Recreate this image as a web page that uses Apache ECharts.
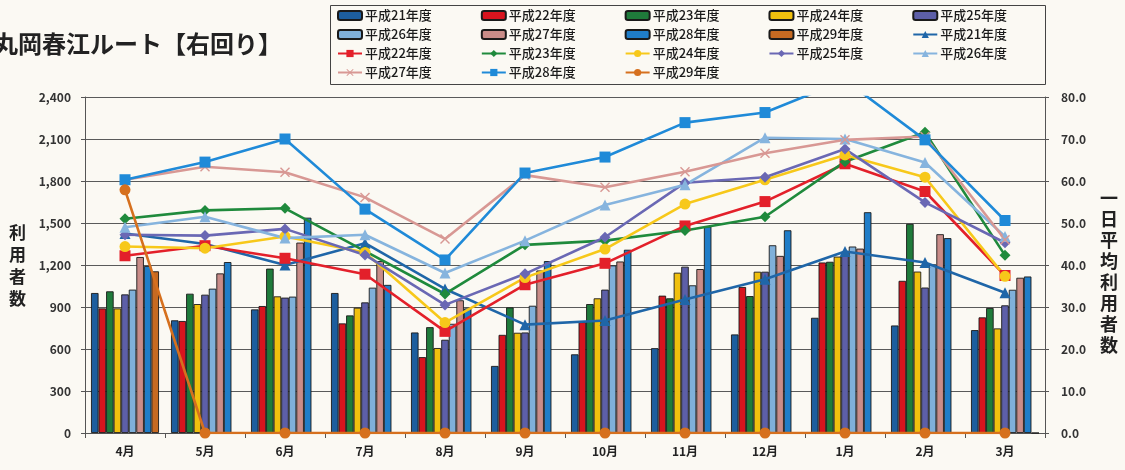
<!DOCTYPE html>
<html>
<head>
<meta charset="utf-8">
<title>丸岡春江ルート【右回り】</title>
<script src="https://cdn.jsdelivr.net/npm/echarts@6/dist/echarts.min.js"></script>
<style>
  html, body { margin: 0; padding: 0; background: #fbf9f3; }
  #main { width: 1125px; height: 470px; }
</style>
</head>
<body>
<div id="main"></div>
<script>
// 月（横軸）
var months = ['4月', '5月', '6月', '7月', '8月', '9月', '10月', '11月', '12月', '1月', '2月', '3月'];
// 年度名
var nendo = ['平成21年度', '平成22年度', '平成23年度', '平成24年度', '平成25年度', '平成26年度', '平成27年度', '平成28年度', '平成29年度'];
// 左軸・右軸の目盛り
var leftTicks = [0, 300, 600, 900, 1200, 1500, 1800, 2100, 2400];
var rightTicks = [0, 10, 20, 30, 40, 50, 60, 70, 80];

// 利用者数（棒）
var riyou21 = [1000, 805, 883, 1000, 718, 479, 562, 606, 704, 823, 768, 735];
var riyou22 = [890, 800, 907, 783, 542, 701, 792, 981, 1043, 1218, 1087, 826];
var riyou23 = [1012, 995, 1174, 840, 756, 897, 921, 962, 978, 1223, 1494, 893];
var riyou24 = [890, 921, 976, 895, 607, 716, 962, 1145, 1152, 1260, 1153, 747];
var riyou25 = [990, 988, 967, 933, 666, 718, 1024, 1188, 1152, 1287, 1039, 912];
var riyou26 = [1024, 1031, 974, 1038, 780, 909, 1197, 1055, 1341, 1332, 1205, 1023];
var riyou27 = [1257, 1140, 1360, 1228, 948, 1161, 1225, 1171, 1265, 1317, 1420, 1109];
var riyou28 = [1193, 1221, 1538, 1058, 890, 1228, 1309, 1475, 1448, 1577, 1392, 1118];
var riyou29 = [1155, 0, 0, 0, 0, 0, 0, 0, 0, 0, 0, 0];

// 一日平均利用者数（折れ線）
var heikin21 = [47.5, 45.0, 40.0, 45.2, 34.3, 25.8, 26.8, 31.8, 36.6, 43.2, 40.6, 33.4];
var heikin22 = [42.2, 44.6, 41.6, 37.8, 24.2, 35.3, 40.4, 49.3, 55.1, 64.1, 57.5, 37.5];
var heikin23 = [51.0, 53.0, 53.5, 43.3, 33.1, 44.8, 45.8, 48.2, 51.5, 64.6, 71.6, 42.3];
var heikin24 = [44.4, 44.0, 46.8, 43.0, 26.3, 37.0, 43.8, 54.5, 60.3, 66.2, 60.9, 37.3];
var heikin25 = [47.2, 47.0, 48.6, 42.4, 30.5, 37.9, 46.6, 59.6, 60.9, 67.6, 54.9, 45.3];
var heikin26 = [49.0, 51.5, 46.4, 47.2, 38.1, 45.8, 54.3, 59.1, 70.3, 70.0, 64.4, 46.8];
var heikin27 = [60.3, 63.4, 62.1, 56.1, 46.2, 61.4, 58.5, 62.2, 66.6, 69.8, 70.6, 46.0];
var heikin28 = [60.3, 64.5, 70.0, 53.3, 41.2, 61.9, 65.7, 73.9, 76.3, 84.0, 69.8, 50.6];
var heikin29 = [57.9, 0, 0, 0, 0, 0, 0, 0, 0, 0, 0, 0];

(function () {
    var myChart = echarts.init(document.getElementById('main'));
    var font = '"Noto Sans CJK JP", "Noto Sans", sans-serif';

    var barData = [riyou21, riyou22, riyou23, riyou24, riyou25, riyou26, riyou27, riyou28, riyou29];
    var lineData = [heikin21, heikin22, heikin23, heikin24, heikin25, heikin26, heikin27, heikin28, heikin29];
    var barColor = ['#1d5e9e', '#d8141e', '#1f7b3b', '#f0c00e', '#5d5fa8', '#7fb0da', '#c98c88', '#1f7dc8', '#c66a22'];
    var lineColor = ['#1f66a8', '#e3202a', '#1f8a3c', '#f7c81a', '#6a68b4', '#86b4de', '#d89894', '#1f8ad8', '#d6701e'];
    // ×印
    var cross = 'path://M1,0L5,4L9,0L10,1L6,5L10,9L9,10L5,6L1,10L0,9L4,5L0,1Z';
    var lineSymbol = ['triangle', 'rect', 'diamond', 'circle', 'diamond', 'triangle', cross, 'rect', 'circle'];
    var LINE_TAG = '（平均）';

    var series = [];
    nendo.forEach(function (name, i) {
        series.push({
            name: name,
            type: 'bar',
            yAxisIndex: 0,
            data: barData[i],
            barGap: '0%',
            barCategoryGap: '15%',
            itemStyle: { color: barColor[i], borderColor: '#1a1a1a', borderWidth: 0.9 }
        });
    });
    nendo.forEach(function (name, i) {
        series.push({
            name: name + LINE_TAG,
            type: 'line',
            yAxisIndex: 1,
            data: lineData[i],
            symbol: lineSymbol[i],
            symbolSize: i === 6 ? 10 : 11,
            lineStyle: { color: lineColor[i], width: 2.6 },
            itemStyle: { color: lineColor[i] },
            z: 3
        });
    });

    // 凡例は4行に分ける
    var all = nendo.concat(nendo.map(function (n) { return n + LINE_TAG; }));
    var rows = [all.slice(0, 5), all.slice(5, 10), all.slice(10, 15), all.slice(15, 18)];
    var legends = rows.map(function (row, r) {
        return {
            data: row,
            left: 337,
            top: 9 + r * 19,
            itemWidth: 24,
            itemHeight: 9,
            itemGap: 49,
            padding: 0,
            selectedMode: false,
            formatter: function (n) { return n.replace(LINE_TAG, ''); },
            textStyle: { fontFamily: font, fontSize: 13, fontWeight: 500, color: '#1a1a1a', padding: [0, 0, 0, -2] }
        };
    });

    var option = {
        backgroundColor: '#fbf9f3',
        animation: false,
        grid: { left: 85, right: 80, top: 97, bottom: 37 },
        legend: legends,
        graphic: [
            {
                type: 'rect',
                shape: { x: 330.5, y: 5.5, width: 715, height: 79 },
                style: { fill: 'none', stroke: '#444', lineWidth: 1 },
                silent: true
            },
            {
                type: 'text',
                x: -6, y: 32,
                style: { text: '丸岡春江ルート【右回り】', font: 'bold 24px ' + font, fill: '#222' }
            },
            {
                type: 'text',
                x: 9, y: 222,
                style: { text: '利\n用\n者\n数', font: 'bold 17px ' + font, fill: '#222', lineHeight: 22 }
            },
            {
                type: 'text',
                x: 1100, y: 188,
                style: { text: '一\n日\n平\n均\n利\n用\n者\n数', font: 'bold 18px ' + font, fill: '#222', lineHeight: 21 }
            }
        ],
        xAxis: {
            type: 'category',
            data: months,
            axisLine: { lineStyle: { color: '#555', width: 1 } },
            axisTick: { show: true, length: 5, lineStyle: { color: '#555' } },
            axisLabel: { color: '#222', fontFamily: font, fontSize: 12, fontWeight: 'bold', margin: 12 }
        },
        yAxis: [
            {
                type: 'value',
                min: leftTicks[0],
                max: leftTicks[leftTicks.length - 1],
                interval: 300,
                axisLine: { show: true, lineStyle: { color: '#555' } },
                axisTick: { show: true, length: 4, lineStyle: { color: '#555' } },
                axisLabel: {
                    color: '#333', fontFamily: font, fontSize: 12, fontWeight: 'bold', margin: 14,
                    formatter: function (v) { return v.toLocaleString('en-US'); }
                },
                splitLine: { lineStyle: { color: '#5a5a5a', width: 1 } }
            },
            {
                type: 'value',
                min: rightTicks[0],
                max: rightTicks[rightTicks.length - 1],
                interval: 10,
                axisLine: { show: true, lineStyle: { color: '#555' } },
                axisTick: { show: true, length: 4, lineStyle: { color: '#555' } },
                axisLabel: {
                    color: '#333', fontFamily: font, fontSize: 12, fontWeight: 'bold', margin: 16,
                    formatter: function (v) { return v.toFixed(1); }
                },
                splitLine: { show: false }
            }
        ],
        series: series
    };

    myChart.setOption(option);
    window.addEventListener('resize', function () {
        myChart.resize();
    });
})();
</script>
</body>
</html>
